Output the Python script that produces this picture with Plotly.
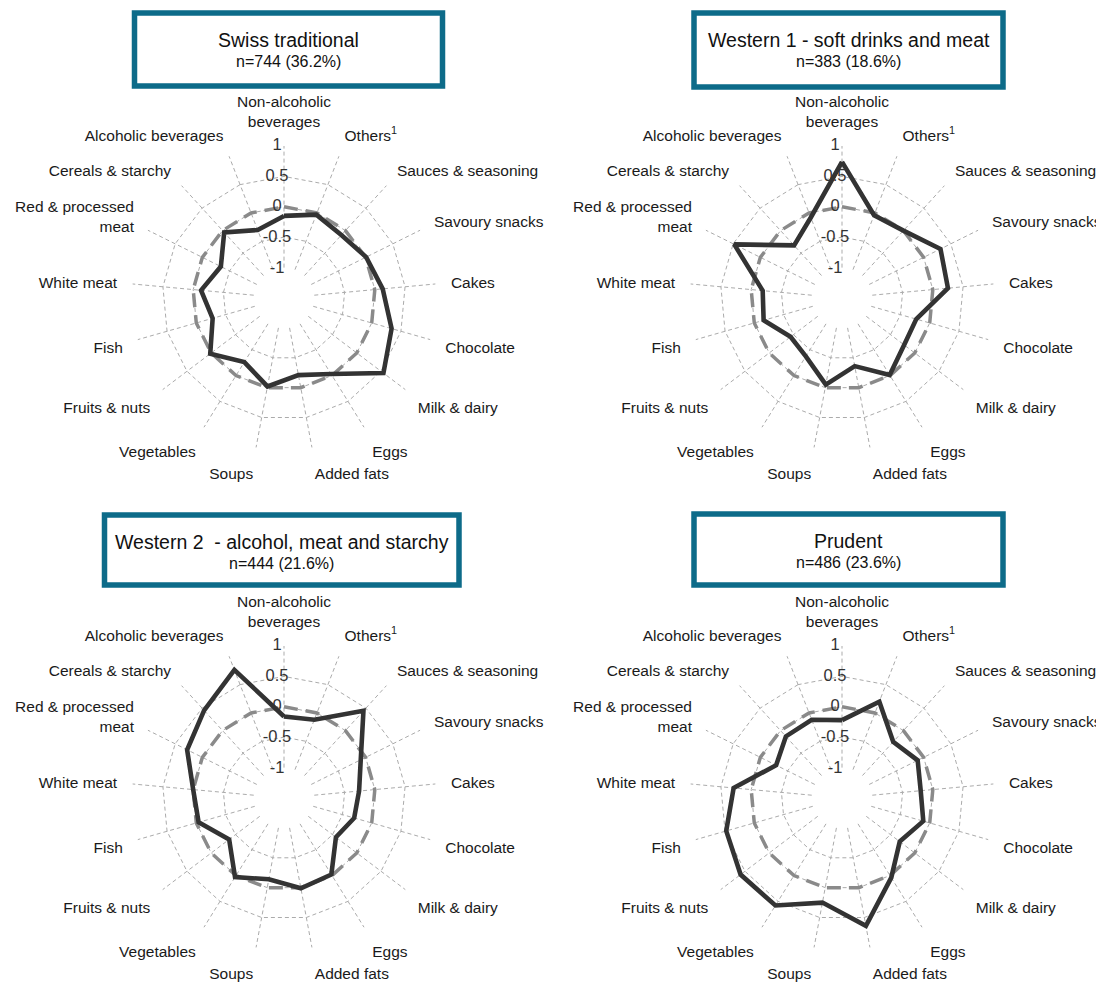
import math
import plotly.graph_objects as go

# ---------------- data ----------------
categories = [
    "Non-alcoholic<br>beverages", "Others<sup>1</sup>", "Sauces & seasoning",
    "Savoury snacks", "Cakes", "Chocolate", "Milk & dairy", "Eggs",
    "Added fats", "Soups", "Vegetables", "Fruits & nuts", "Fish",
    "White meat", "Red & processed<br>meat", "Cereals & starchy",
    "Alcoholic beverages",
]

swiss_traditional = [-0.15, -0.03, -0.10, 0.01, 0.13, 0.34, 0.55, -0.03, -0.21,
                     -0.02, -0.26, 0.02, -0.28, -0.13, -0.34, -0.04, -0.30]
western1 = [0.74, -0.04, 0.00, 0.31, 0.25, -0.23, -0.22, -0.01, -0.36,
            -0.05, -0.37, -0.44, -0.16, -0.19, 0.48, -0.33, -0.08]
western2 = [-0.16, -0.12, 0.44, -0.09, -0.26, -0.30, -0.43, -0.02, 0.01,
            -0.14, 0.03, -0.37, -0.04, 0.00, 0.28, 0.45, 0.76]
prudent = [-0.22, 0.20, -0.25, -0.11, -0.20, -0.11, -0.31, 0.04, 0.64,
           0.25, 0.58, 0.59, 0.48, 0.29, -0.29, -0.13, -0.12]

panel_titles = ["Swiss traditional", "Western 1 - soft drinks and meat",
                "Western 2  - alcohol, meat and starchy", "Prudent"]
panel_subtitles = ["n=744 (36.2%)", "n=383 (18.6%)", "n=444 (21.6%)", "n=486 (23.6%)"]
panel_values = [swiss_traditional, western1, western2, prudent]

tick_vals = [1, 0.5, 0, -0.5, -1]
tick_text = ["1", "0.5", "0", "-0.5", "-1"]
reference_level = 0

# ---------------- layout geometry ----------------
# the page body has an 8px margin, so the figure is drawn 8px in from the corner
OFF = 8
W, H = 1104 - OFF, 985 - OFF
R = 152
HOLE = 0.2
R_MIN, R_MAX = -1.5, 1.0          # full radial scale (centre .. outer ring)
centers = [(284, 298), (842, 298), (284, 798), (842, 798)]
boxes = [(134.5, 13, 442.5, 86), (694, 13, 1003, 87),
         (104.5, 515, 459, 585), (694, 514, 1003, 585)]

FONT = "Liberation Sans, Arial, sans-serif"
BOX_COLOR = "#0d6b89"
GRID = "#ababab"
LABEL_SHIFT_PX = 7                 # radial tick labels sit slightly left of the spoke

fig = go.Figure()
layout = dict(
    width=W, height=H,
    margin=dict(l=0, r=0, t=0, b=0),
    paper_bgcolor="white", plot_bgcolor="white",
    showlegend=False,
    font=dict(family=FONT, color="#1a1a1a"),
    shapes=[], annotations=[],
)

px_per_unit = R / (R_MAX - R_MIN)
label_theta = [-math.degrees(math.atan(LABEL_SHIFT_PX / ((v - R_MIN) * px_per_unit)))
               for v in tick_vals]

n = len(panel_values)
for i, (vals, (cx, cy)) in enumerate(zip(panel_values, centers)):
    cx -= OFF
    cy -= OFF
    pid = "polar" if i == 0 else f"polar{i+1}"
    pid_lab = f"polar{i+1+n}"
    theta_closed = categories + [categories[0]]

    # reference ring at 0
    fig.add_trace(go.Scatterpolar(
        r=[reference_level] * (len(categories) + 1), theta=theta_closed,
        mode="lines", line=dict(color="#8a8a8a", width=3.5, dash="14px,8px"),
        subplot=pid, hoverinfo="skip"))
    # data
    fig.add_trace(go.Scatterpolar(
        r=vals + [vals[0]], theta=theta_closed, mode="lines",
        line=dict(color="#333333", width=4.6), subplot=pid))
    # radial tick labels (overlay polar with a numeric angular axis)
    fig.add_trace(go.Scatterpolar(
        r=tick_vals, theta=label_theta, mode="text",
        text=tick_text, textposition="middle center",
        textfont=dict(size=16.5, color="#333333", family=FONT),
        cliponaxis=False, subplot=pid_lab, hoverinfo="skip"))

    dom = dict(x=[(cx - R) / W, (cx + R) / W],
               y=[(H - cy - R) / H, (H - cy + R) / H])
    layout[pid] = dict(
        domain=dom,
        bgcolor="white",
        gridshape="linear",
        hole=HOLE,
        radialaxis=dict(range=[-1.0005, 1.0005], tickvals=tick_vals,
                        showticklabels=False, showline=False, ticks="",
                        gridcolor=GRID, gridwidth=1.4, griddash="4px,3px"),
        angularaxis=dict(type="category", categoryarray=categories,
                         direction="clockwise", rotation=90,
                         showline=False, ticks="outside", ticklen=12,
                         tickcolor="rgba(0,0,0,0)",
                         gridcolor=GRID, gridwidth=1.4, griddash="4px,3px",
                         tickfont=dict(size=15.5, color="#1a1a1a", family=FONT)),
    )
    layout[pid_lab] = dict(
        domain=dom,
        bgcolor="rgba(0,0,0,0)",
        radialaxis=dict(range=[R_MIN, R_MAX], visible=False, showgrid=False,
                        showline=False, showticklabels=False, ticks=""),
        angularaxis=dict(type="linear", thetaunit="degrees",
                         direction="clockwise", rotation=90, visible=False,
                         showgrid=False, showline=False, showticklabels=False,
                         ticks=""),
    )

    bx0, by0, bx1, by1 = [v - OFF for v in boxes[i]]
    layout["shapes"].append(dict(
        type="rect", xref="paper", yref="paper",
        x0=bx0 / W, x1=bx1 / W, y0=1 - by0 / H, y1=1 - by1 / H,
        line=dict(color=BOX_COLOR, width=5.5), fillcolor="white", layer="above"))
    bxc = (bx0 + bx1) / 2 / W
    layout["annotations"].append(dict(
        x=bxc, y=1 - (by0 + 27) / H, xref="paper", yref="paper",
        xanchor="center", yanchor="middle",
        text=panel_titles[i], showarrow=False,
        font=dict(size=19.5, color="#111111", family=FONT)))
    layout["annotations"].append(dict(
        x=bxc, y=1 - (by0 + 48) / H, xref="paper", yref="paper",
        xanchor="center", yanchor="middle",
        text=panel_subtitles[i], showarrow=False,
        font=dict(size=16, color="#111111", family=FONT)))

fig.update_layout(**layout)
fig.write_html("out.html")
